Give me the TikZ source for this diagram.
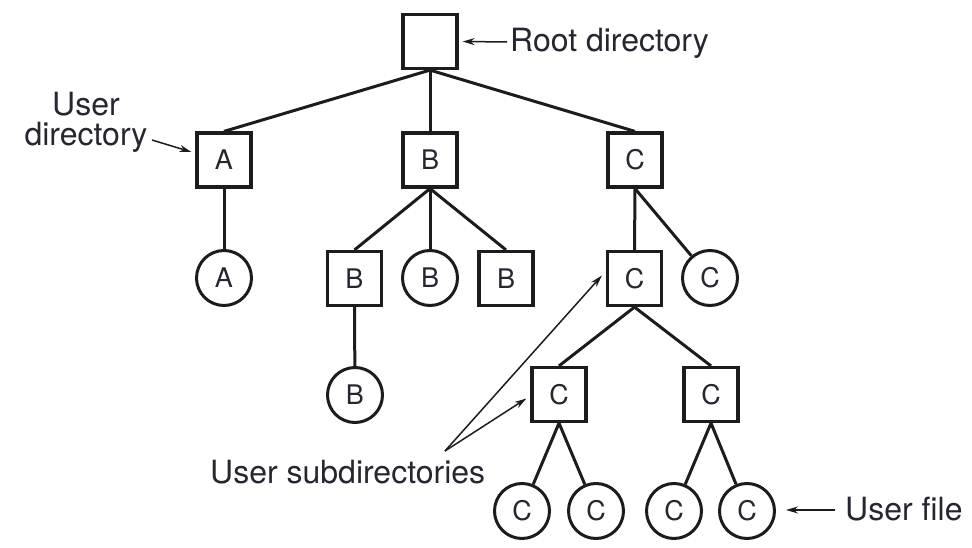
\documentclass[tikz,border=0pt]{standalone}
\usepackage{fontspec}
\setmainfont{TeX Gyre Heros}
\usetikzlibrary{arrows.meta,calc}
\definecolor{ink}{HTML}{1C1C1C}
\definecolor{txt}{HTML}{262630}
\tikzset{
  dirbox/.style={draw=ink,line width=3.2pt,minimum size=54pt,inner sep=0pt,fill=white,
    font=\fontsize{27}{30}\selectfont,text=txt},
  filecirc/.style={draw=ink,line width=3pt,circle,minimum size=55pt,inner sep=0pt,fill=white,
    font=\fontsize{27}{30}\selectfont,text=txt},
  edge/.style={draw=ink,line width=3pt},
  pointer/.style={draw=ink,line width=1.5pt,-{Stealth[length=12pt,width=7pt]}},
  lbl/.style={font=\fontsize{32}{30}\selectfont,text=txt,inner sep=0pt}
}
\begin{document}
\begin{tikzpicture}[x=1pt,y=-1pt]
\useasboundingbox (0,0) rectangle (972,548);
% nodes
\node[dirbox] (root) at (430,41.5) {};
\node[dirbox] (A) at (224,160) {A};
\node[dirbox] (B) at (430,160) {B};
\node[dirbox] (C) at (635,160) {C};
\node[filecirc] (Af) at (224,278) {A};
\node[dirbox] (Bd1) at (354.5,278.5) {B};
\node[filecirc] (Bf1) at (430,278) {B};
\node[dirbox] (Bd2) at (506,278.5) {B};
\node[dirbox] (Cd) at (634.5,278.5) {C};
\node[filecirc] (Cf) at (710,278) {C};
\node[filecirc] (Bf2) at (355,395) {B};
\node[dirbox] (Cd1) at (559,394.5) {C};
\node[dirbox] (Cd2) at (711,394.5) {C};
\node[filecirc] (Cf1) at (522,511) {C};
\node[filecirc] (Cf2) at (596,511) {C};
\node[filecirc] (Cf3) at (674,511) {C};
\node[filecirc] (Cf4) at (747,511) {C};
% edges
\draw[edge] (root.south) -- (A.north);
\draw[edge] (root.south) -- (B.north);
\draw[edge] (root.south) -- (C.north);
\draw[edge] (A.south) -- (Af);
\draw[edge] (B.south) -- (Bd1.north);
\draw[edge] (B.south) -- (Bf1);
\draw[edge] (B.south) -- (Bd2.north);
\draw[edge] (Bd1.south) -- (Bf2);
\draw[edge] (C.south) -- (Cd.north);
\draw[edge] (C.south) -- (Cf);
\draw[edge] (Cd.south) -- (Cd1.north);
\draw[edge] (Cd.south) -- (Cd2.north);
\draw[edge] (Cd1.south) -- (Cf1);
\draw[edge] (Cd1.south) -- (Cf2);
\draw[edge] (Cd2.south) -- (Cf3);
\draw[edge] (Cd2.south) -- (Cf4);
% labels
\node[lbl,anchor=base west] (rootlbl) at (510,52) {Root directory};
\node[lbl,align=center] (udlbl) at (86,122) {User\\directory};
\node[lbl,anchor=base west] (sublbl) at (210,483) {User subdirectories};
\node[lbl,anchor=base west] (uflbl) at (845,520) {User file};
% pointers
\coordinate (rs) at (507,42);
\coordinate (us) at (152,140);
\coordinate (ss) at (445,451);
\coordinate (fs) at (835,510);
\draw[pointer] (rs) -- ($(root.east)+(4,0)$);
\draw[pointer] (us) -- ($(A.west)+(-4,-8)$);
\draw[pointer] (ss) -- ($(Cd.west)+(-4,-3)$);
\draw[pointer] (ss) -- ($(Cd1.west)+(-4,4)$);
\draw[pointer] (fs) -- ($(Cf4.east)+(10,-1)$);
\end{tikzpicture}
\end{document}
